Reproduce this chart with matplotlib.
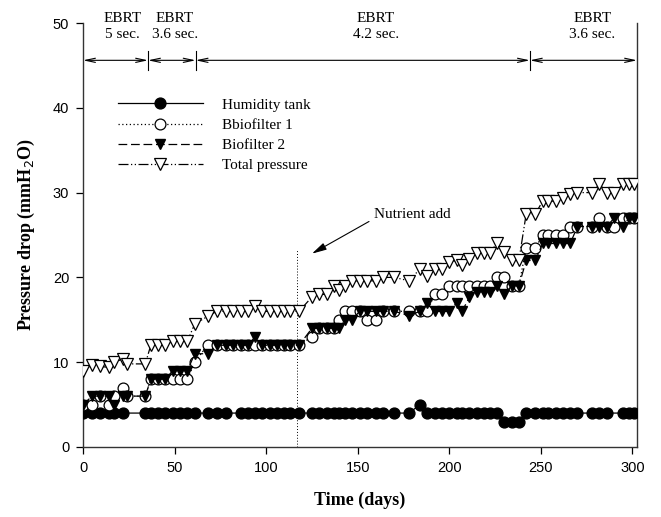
import numpy as np
import matplotlib
matplotlib.use("Agg")
import matplotlib.pyplot as plt

nan = np.nan

# sampling days (shared by all series)
days = np.array([0, 5, 9, 14, 17, 22, 24, 34,
                 37, 41, 45, 49, 53, 57, 61,
                 68, 73, 78, 82, 86, 90, 94, 98, 102, 106, 110, 113, 118,
                 125, 129, 133, 137, 140, 143, 147, 151, 155, 160, 164, 170,
                 178, 184, 188, 192, 196, 200, 204, 207, 211, 215, 219, 222,
                 226, 230, 234, 238, 242, 247, 251, 254, 258, 262, 266, 270,
                 278, 282, 286, 290, 295, 298, 301])

humidity = np.array([4, 4, 4, 4, 4, 4, nan, 4,
                     4, 4, 4, 4, 4, 4, 4,
                     4, 4, 4, nan, 4, 4, 4, 4, 4, 4, 4, 4, 4,
                     4, 4, 4, 4, 4, 4, 4, 4, 4, 4, 4, 4,
                     4, 5, 4, 4, 4, 4, 4, 4, 4, 4, 4, 4,
                     4, 3, 3, 3, 4, 4, 4, 4, 4, 4, 4, 4,
                     4, 4, 4, nan, 4, 4, 4])

biofilter1 = np.array([5, 5, 6, 5, 6, 7, 6, 6,
                       8, 8, 8, 8, 8, 8, 10,
                       12, 12, 12, 12, 12, 12, 12, 12, 12, 12, 12, 12, 12,
                       13, 14, 14, 14, 15, 16, 16, 16, 15, 15, 16, 16,
                       16, 16, 16, 18, 18, 19, 19, 19, 19, 19, 19, 19,
                       20, 20, 19, 19, 23.5, 23.5, 25, 25, 25, 25, 26, 26,
                       26, 27, 26, 26, 27, 27, 27])

biofilter2 = np.array([5, 6, 6, 6, 5, 6, 6, 6,
                       8, 8, 8, 9, 9, 9, 11,
                       11, 12, 12, 12, 12, 12, 13, 12, 12, 12, 12, 12, 12,
                       14, 14, 14, 14, 14, 15, 15, 16, 16, 16, 16, 16,
                       15.5, 16, 17, 16, 16, 16, 17, 16, 17.7, 18.3, 18.3, 18.3,
                       19, 18, 19, 19, 22, 22, 24, 24, 24, 24, 24, 26,
                       26, 26, 26, 27, 26, 27, 27])

total = np.array([9, 9.7, 9.5, 9.4, 10, 10.4, 9.8, 9.8,
                  12, 12, 12, 12.5, 12.5, 12.5, 14.5,
                  15.4, 16, 16, 16, 16, 16, 16.6, 16, 16, 16, 16, 16, 16,
                  17.7, 18, 18, 19, 18.5, 19, 19.6, 19.6, 19.6, 19.6, 20, 20,
                  19.6, 21, 20.2, 21, 21, 21.8, 22, 21.5, 22.2, 22.9, 22.9, 22.9,
                  24, 23, 22, 22, 27.5, 27.5, 29, 29, 29, 29.4, 29.8, 30,
                  30, 31, 30, 30, 31, 31, 31])

# EBRT periods
ebrt_bounds = [0, 35.5, 61.5, 244, 302.5]
ebrt_labels = ["EBRT\n5 sec.", "EBRT\n3.6 sec.", "EBRT\n4.2 sec.", "EBRT\n3.6 sec."]
ebrt_text_x = [21.5, 50, 160, 278]

nutrient_day = 117

SERIF = "Liberation Serif"
SANS = "Liberation Sans"

fig = plt.figure(figsize=(6.61, 5.17), dpi=100, facecolor="white")
ax = fig.add_axes([0.1256, 0.1354, 0.9637 - 0.1256, 0.9555 - 0.1354])

ms = 7.8
lw = 0.9

m = ~np.isnan(humidity)
ax.plot(days[m], humidity[m], "-", color="black", lw=lw, marker="o",
        ms=ms, mfc="black", mec="black", label="Humidity tank", zorder=3)
ax.plot(days, biofilter1, linestyle=(0, (1, 2)), color="black", lw=lw, marker="o",
        ms=ms, mfc="white", mec="black", mew=0.9, label="Bbiofilter 1", zorder=4)
ax.plot(days, biofilter2, linestyle=(0, (7, 3)), color="black", lw=lw, marker="v",
        ms=ms, mfc="black", mec="black", label="Biofilter 2", zorder=5)
ax.plot(days, total, linestyle=(0, (8, 2, 1, 2, 1, 2)), color="black", lw=lw,
        marker="v", ms=ms + 0.5, mfc="white", mec="black", mew=0.9,
        label="Total pressure", zorder=6)

ax.set_xlim(0, 302.5)
ax.set_ylim(0, 50)
ax.set_xticks(np.arange(0, 301, 50))
ax.set_yticks(np.arange(0, 51, 10))
ax.tick_params(direction="out", length=5, width=0.9, labelsize=10.5, pad=5)
for lab in ax.get_xticklabels() + ax.get_yticklabels():
    lab.set_fontfamily(SANS)
ax.tick_params(axis="y", right=False)
ax.spines["top"].set_visible(False)
for sp in ["left", "bottom", "right"]:
    ax.spines[sp].set_linewidth(1.0)
    ax.spines[sp].set_color("#333333")

ax.set_xlabel("Time (days)", family=SERIF, fontweight="bold", fontsize=13, labelpad=12)
ax.set_ylabel("Pressure drop (mmH$_2$O)", family=SERIF, fontweight="bold",
              fontsize=13, labelpad=11)

# EBRT arrows and labels
arrow_y = 45.6
for i in range(len(ebrt_labels)):
    ax.annotate("", xy=(ebrt_bounds[i], arrow_y), xytext=(ebrt_bounds[i + 1], arrow_y),
                arrowprops=dict(arrowstyle="<->,head_length=0.7,head_width=0.15",
                                lw=0.8, color="black", shrinkA=0, shrinkB=0),
                annotation_clip=False)
    ax.text(ebrt_text_x[i], 49.6, ebrt_labels[i], family=SERIF, fontsize=11,
            ha="center", va="center", linespacing=1.3, clip_on=False)
for b in ebrt_bounds[1:-1]:
    ax.plot([b, b], [44.5, 46.7], color="black", lw=0.8)

# nutrient addition marker
ax.plot([nutrient_day, nutrient_day], [0, 23.3], linestyle=(0, (1, 2)), color="black", lw=0.7)
ax.annotate("Nutrient add", xy=(125, 22.8), xytext=(159, 27.4),
            family=SERIF, fontsize=11, va="center", ha="left",
            arrowprops=dict(arrowstyle="-|>,head_length=0.8,head_width=0.2",
                            lw=0.8, color="black", shrinkA=2, shrinkB=0,
                            relpos=(0.0, 0.2)))

leg = ax.legend(loc="upper left", bbox_to_anchor=(0.064, 0.823), frameon=False,
                prop={"family": SERIF, "size": 11}, handlelength=5.5,
                handletextpad=1.3, labelspacing=0.42, borderpad=0, borderaxespad=0,
                numpoints=1)

fig.savefig("out.png", dpi=100, facecolor="white")
